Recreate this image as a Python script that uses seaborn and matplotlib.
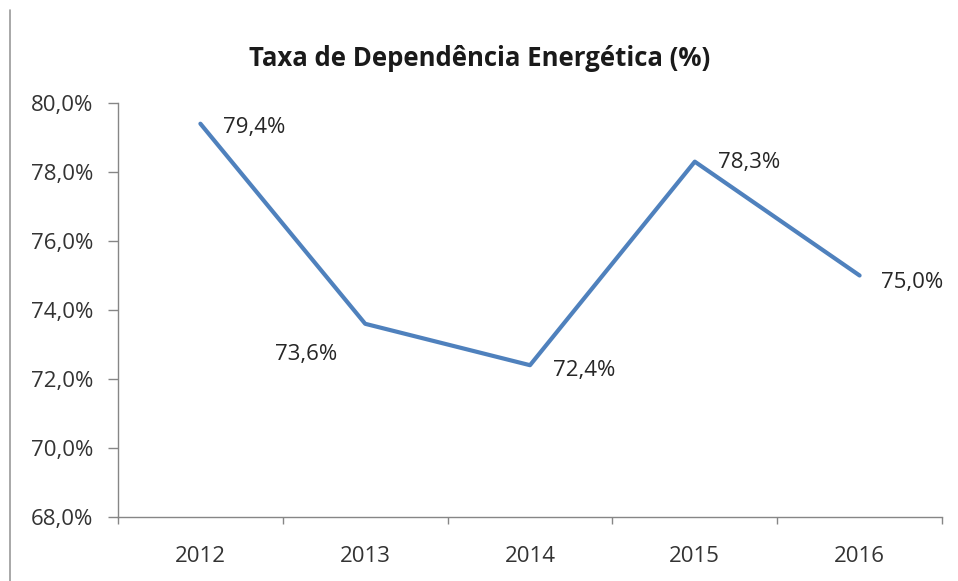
import matplotlib
matplotlib.use("Agg")
import matplotlib.pyplot as plt
from matplotlib.lines import Line2D
import seaborn as sns
import pandas as pd

years = ["2012", "2013", "2014", "2015", "2016"]
values = [79.4, 73.6, 72.4, 78.3, 75.0]
labels = ["79,4%", "73,6%", "72,4%", "78,3%", "75,0%"]
yticks = [68, 70, 72, 74, 76, 78, 80]
ytick_labels = ["68,0%", "70,0%", "72,0%", "74,0%", "76,0%", "78,0%", "80,0%"]
title = "Taxa de Dependência Energética (%)"

sns.set_style("white")
plt.rcParams['font.family'] = ['Open Sans', 'DejaVu Sans']

df = pd.DataFrame({"year": years, "value": values})
df["pos"] = range(len(years))

fig = plt.figure(figsize=(9.58, 5.81), dpi=100)
ax = fig.add_axes([118/958, 1-517/581, (942-118)/958, (517-103)/581])

sns.lineplot(data=df, x="pos", y="value", ax=ax, color="#4F81BD", linewidth=3.0,
             sort=False)

ax.set_xlim(-0.5, len(years) - 0.5)
ax.set_ylim(68, 80)
ax.set_yticks(yticks)
ax.set_yticklabels(ytick_labels)
ax.set_xticks(range(len(years)))
ax.set_xticklabels(years)
ax.set_xticks([i - 0.5 for i in range(len(years) + 1)], minor=True)
ax.set_xlabel("")
ax.set_ylabel("")

for s in ["top", "right"]:
    ax.spines[s].set_visible(False)
for s in ["left", "bottom"]:
    ax.spines[s].set_color("#868686")
    ax.spines[s].set_linewidth(1.0)

fs = 16
ax.tick_params(axis="y", which="major", direction="out", length=7, width=1,
               color="#868686", labelsize=fs, labelcolor="#333333", pad=11, left=True)
ax.tick_params(axis="x", which="major", length=0, labelsize=fs,
               labelcolor="#333333", pad=21, bottom=True)
ax.tick_params(axis="x", which="minor", direction="out", length=5, width=1,
               color="#868686", bottom=True)

offsets = [(23, -4), (-90, -31), (23, -5), (23, -1), (21, -7)]
for i, (v, lab) in enumerate(zip(values, labels)):
    ax.annotate(lab, xy=(i, v), xytext=offsets[i], textcoords="offset pixels",
                ha="left", va="center", fontsize=fs, color="#262626")

fig.text(480/958, 1-58/581, title, ha="center", va="center",
         fontsize=18.5, fontweight="bold", color="#1a1a1a")

fig.add_artist(Line2D([10/958, 10/958], [0, 1-10/581], transform=fig.transFigure,
                      color="#9a9a9a", linewidth=1.2))

fig.savefig("out.png", dpi=100, facecolor="white")
